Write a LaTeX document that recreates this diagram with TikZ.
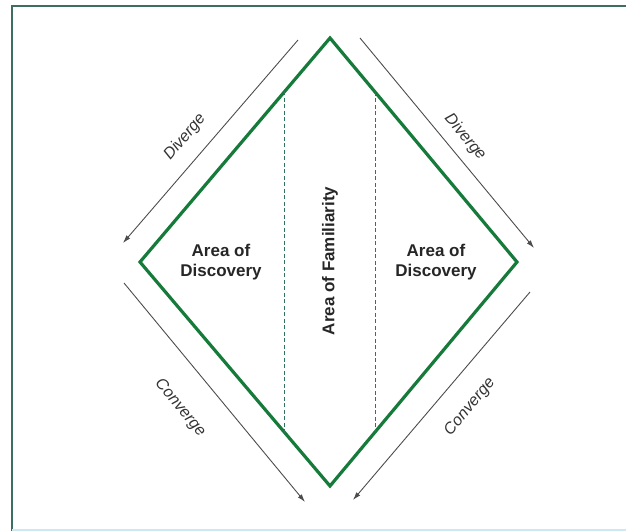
\documentclass[tikz,border=0pt]{standalone}
\usepackage{fontspec}
\setmainfont{Liberation Sans}
\usepackage{tikz}
\usetikzlibrary{arrows.meta,calc}

\definecolor{diamondgreen}{RGB}{22,122,58}
\definecolor{guidegreen}{RGB}{50,115,95}
\definecolor{framegreen}{RGB}{62,110,96}
\definecolor{framelight}{RGB}{205,232,240}

\begin{document}
\begin{tikzpicture}[
    x=1pt, y=-1pt,
    edge/.style={draw=diamondgreen, line width=3.2pt, line join=miter},
    guide/.style={draw=guidegreen, line width=1pt, dash pattern=on 4pt off 2.5pt},
    flow/.style={-{Latex[length=8pt,width=5pt]}, draw=black!70, line width=0.9pt},
    flowlabel/.style={font=\fontsize{16}{18}\selectfont\itshape, text=black!80, inner sep=0pt},
    area/.style={font=\fontsize{17}{20}\selectfont\bfseries, align=center, text=black!85, inner sep=0pt}
]
    \useasboundingbox (0,0) rectangle (626,531);

    % page frame
    \draw[framegreen, line width=2pt] (12,531) -- (12,6) -- (626,6);
    \draw[framelight, line width=1.5pt] (12,530) -- (626,530);

    % diamond
    \coordinate (top) at (330,38);
    \coordinate (right) at (517,262);
    \coordinate (bottom) at (330,486);
    \coordinate (left) at (140,262);
    \draw[edge] (top) -- (right) -- (bottom) -- (left) -- cycle;

    % dashed borders of the middle band
    \coordinate (gl1) at ($(top)!0.237!(left)$);
    \coordinate (gl2) at ($(bottom)!0.237!(left)$);
    \coordinate (gr1) at ($(top)!0.241!(right)$);
    \coordinate (gr2) at ($(bottom)!0.241!(right)$);
    \draw[guide] (gl1) -- (gl2);
    \draw[guide] (gr1) -- (gr2);

    \node[area] (discl) at (221,262) {Area of\\Discovery};
    \node[area] (discr) at (436,262) {Area of\\Discovery};
    \node[area, rotate=90] (famil) at (330,261) {Area of Familiarity};

    % arrows outside the diamond
    \coordinate (dl1) at (298,40);
    \coordinate (dl2) at (123,243);
    \coordinate (dr1) at (360,38);
    \coordinate (dr2) at (534,248);
    \coordinate (cl1) at (124,283);
    \coordinate (cl2) at (305,502);
    \coordinate (cr1) at (530,292);
    \coordinate (cr2) at (353,500);
    \draw[flow] (dl1) -- (dl2);
    \draw[flow] (dr1) -- (dr2);
    \draw[flow] (cl1) -- (cl2);
    \draw[flow] (cr1) -- (cr2);

    \node[flowlabel, rotate=50] (divl) at (185,137) {Diverge};
    \node[flowlabel, rotate=-50] (divr) at (465,137) {Diverge};
    \node[flowlabel, rotate=-50] (conl) at (180,408) {Converge};
    \node[flowlabel, rotate=50] (conr) at (470,407) {Converge};
\end{tikzpicture}
\end{document}
